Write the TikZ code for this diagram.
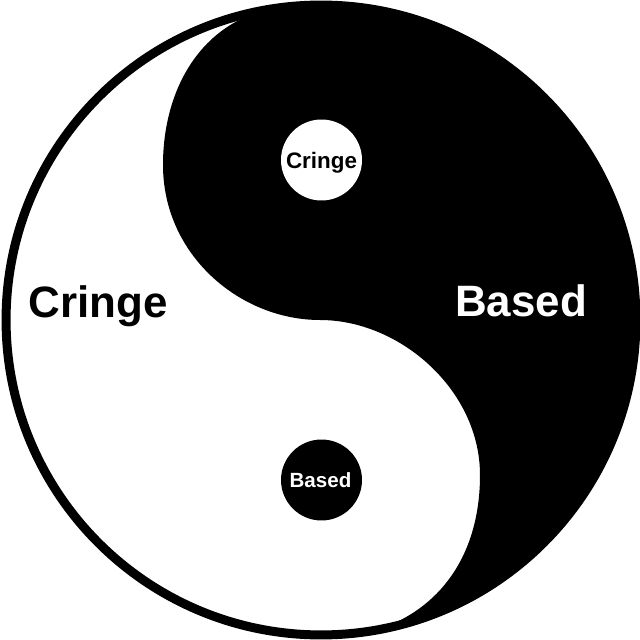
\documentclass[tikz,border=0pt]{standalone}
\usepackage{fontspec}
\setmainfont{Liberation Sans}
\begin{document}
\begin{tikzpicture}[x=0.02cm,y=0.02cm,
  dot/.style={circle,inner sep=0pt,minimum size=1.62cm},
  lbl/.style={inner sep=0pt,anchor=base,font=\bfseries}]
\useasboundingbox (0,0) rectangle (640,640);
\fill[white] (0,0) rectangle (640,640);
\coordinate (C) at (321,320);
\coordinate (T) at (269,630.7);
\coordinate (L) at (163,475);
\coordinate (M) at (320,320);
\coordinate (R) at (480,165);
\coordinate (B) at (375.7,9.8);
% black half
\fill[black] (T) .. controls (200,615) and (163,550) .. (L)
  .. controls (163,385) and (240,320) .. (M)
  .. controls (400,320) and (480,250) .. (R)
  .. controls (480,85) and (440,30) .. (B)
  arc[start angle=-80, end angle=99.5, radius=6.3cm] -- cycle;
% outer ring
\draw[line width=0.18cm] (C) circle[radius=6.3cm];
% dots
\node[dot,fill=white] (dw) at (321.5,480) {};
\node[dot,fill=black] (db) at (321.5,160) {};
% labels
\node[lbl,text=black,font=\bfseries\fontsize{25}{30}\selectfont] (c1) at (98,322) {Cringe};
\node[lbl,text=white,font=\bfseries\fontsize{25}{30}\selectfont] (b1) at (521,323) {Based};
\node[lbl,text=black,font=\bfseries\fontsize{12.75}{15}\selectfont] (c2) at (321.5,471) {Cringe};
\node[lbl,text=white,font=\bfseries\fontsize{11.7}{14}\selectfont] (b2) at (320.5,153) {Based};
\end{tikzpicture}
\end{document}
